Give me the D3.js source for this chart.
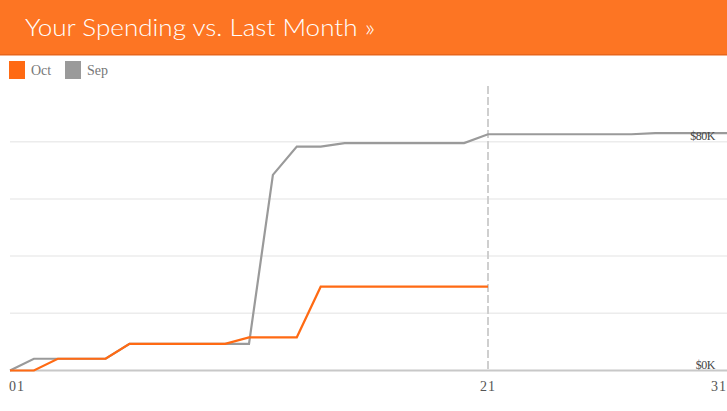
<!DOCTYPE html>
<html>
<head>
<meta charset="utf-8">
<script src="https://cdn.jsdelivr.net/npm/d3@7"></script>
<style>
html,body{margin:0;padding:0;background:#fff;}
svg{display:block;}
</style>
</head>
<body>
<svg id="chart" width="727" height="411"></svg>
<script>
const title = "Your Spending vs. Last Month »";
const seriesNames = ["Oct", "Sep"];
const seriesColors = ["#ff6a13", "#9a9a9a"];
const octDays = d3.range(1, 22);
const octValues = [0,0,4.1,4.1,4.1,9.3,9.3,9.3,9.3,9.3,11.6,11.6,11.6,29.3,29.3,29.3,29.3,29.3,29.3,29.3,29.3];
const sepDays = d3.range(1, 32);
const sepValues = [0,4.1,4.1,4.1,4.1,9.3,9.3,9.3,9.3,9.3,9.3,68.4,78.3,78.3,79.5,79.5,79.5,79.5,79.5,79.5,82.6,82.6,82.6,82.6,82.6,82.6,82.6,83.0,83.0,83.0,83.0];
const gridValues = [0,20,40,60,80];
const yLabelValues = [0,80];
const xTickDays = [1,21,31];
const xTickLabels = ["01","21","31"];
const todayDay = 21;

const svg = d3.select("#chart");
const W = 727;

// header
svg.append("rect").attr("x",0).attr("y",0).attr("width",W).attr("height",55).attr("fill","#fd7523");
svg.append("rect").attr("x",0).attr("y",54).attr("width",W).attr("height",1.5).attr("fill","#e8651a");
svg.append("text").attr("x",25).attr("y",36)
  .attr("fill","#fff").attr("font-family","Lato, 'Open Sans', sans-serif").attr("font-weight",300)
  .attr("font-size",24).attr("textLength",350).attr("lengthAdjust","spacingAndGlyphs")
  .text(title);

// legend
const legend = svg.append("g");
const legX = [9, 65];
seriesNames.forEach((n,i)=>{
  legend.append("rect").attr("x",legX[i]).attr("y",61).attr("width",16).attr("height",18).attr("fill",seriesColors[i]);
  legend.append("text").attr("x",legX[i]+22).attr("y",75).attr("fill","#777")
    .attr("font-family","'Liberation Serif', 'DejaVu Serif', serif").attr("font-size",14).text(n);
});

const x = d3.scaleLinear().domain([1,31]).range([10,727]);
const y = d3.scaleLinear().domain([0,80]).range([370.5,141.7]);

// grid
svg.append("g").selectAll("line").data(gridValues.filter(v=>v>0)).join("line")
  .attr("x1",10).attr("x2",W).attr("y1",d=>y(d)).attr("y2",d=>y(d))
  .attr("stroke","#ececec").attr("stroke-width",1.5);

// today dashed
svg.append("line").attr("x1",x(todayDay)).attr("x2",x(todayDay)).attr("y1",86).attr("y2",y(0))
  .attr("stroke","#cfcfcf").attr("stroke-width",2).attr("stroke-dasharray","8,3");

// baseline
svg.append("line").attr("x1",10).attr("x2",W).attr("y1",y(0)).attr("y2",y(0))
  .attr("stroke","#c8c8c8").attr("stroke-width",2);

const line = d3.line().x(d=>x(d[0])).y(d=>y(d[1]));
svg.append("path").datum(sepDays.map((d,i)=>[d,sepValues[i]]))
  .attr("d",line).attr("fill","none").attr("stroke",seriesColors[1]).attr("stroke-width",2.2);
svg.append("path").datum(octDays.map((d,i)=>[d,octValues[i]]))
  .attr("d",line).attr("fill","none").attr("stroke",seriesColors[0]).attr("stroke-width",2.2);

// y labels
svg.append("g").selectAll("text").data(yLabelValues).join("text")
  .attr("x",715).attr("y",d=>y(d)-2).attr("text-anchor","end")
  .attr("fill","#444").attr("font-family","'Liberation Serif', serif").attr("font-size",12)
  .attr("letter-spacing",-0.5)
  .text(d=>"$"+d+"K");

// x labels
const anchors = ["start","middle","end"];
svg.append("g").selectAll("text").data(xTickDays).join("text")
  .attr("x",(d,i)=> i===0 ? 9 : (i===2 ? 727 : x(d)))
  .attr("y",391).attr("text-anchor",(d,i)=>anchors[i])
  .attr("fill","#555").attr("font-family","'Liberation Serif', serif").attr("font-size",14)
  .attr("letter-spacing",1)
  .text((d,i)=>xTickLabels[i]);
</script>
</body>
</html>
